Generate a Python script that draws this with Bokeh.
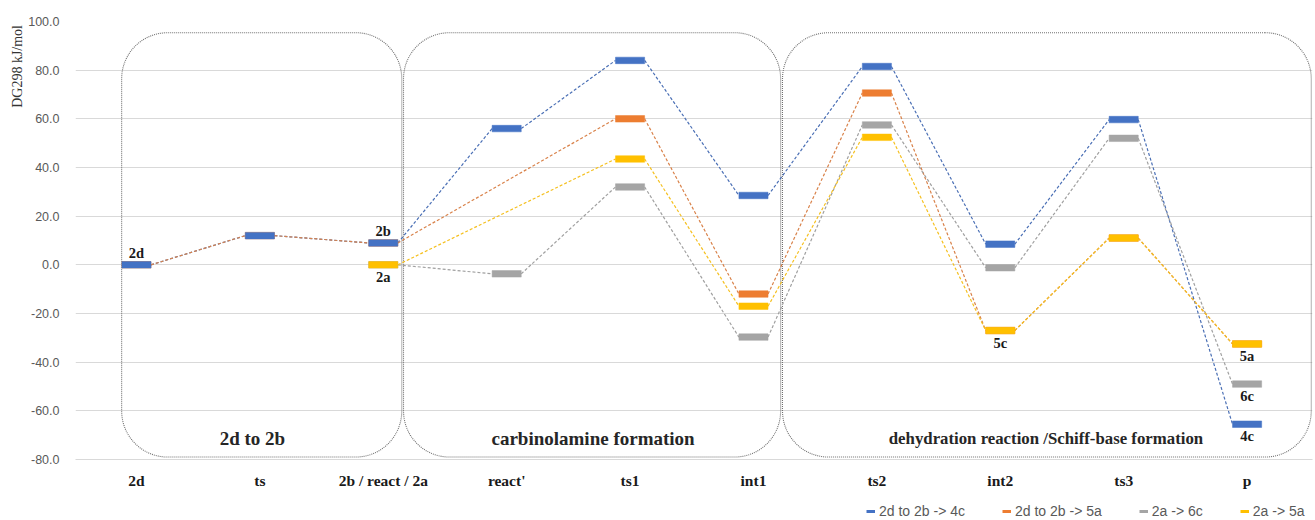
import math
from bokeh.plotting import figure
from bokeh.layouts import column
from bokeh.models import (FixedTicker, NumeralTickFormatter, Legend, LegendItem, Title)
from bokeh.core.properties import value
from bokeh.embed import file_html
from bokeh.resources import INLINE

NAN = float("nan")

# ---------------- data ----------------
stages = ["2d", "ts", "2b / react / 2a", "react'", "ts1", "int1", "ts2", "int2", "ts3", "p"]
series_names = ["2d to 2b -> 4c", "2d to 2b -> 5a", "2a -> 6c", "2a -> 5a"]
s_2d_4c = [0.0, 12.0, 9.0, 56.0, 84.0, 28.5, 81.5, 8.5, 59.7, -65.5]
s_2d_5a = [0.0, 12.0, 9.0, NAN, 60.0, -12.0, 70.6, -27.0, 11.0, -32.5]
s_2a_6c = [NAN, NAN, 0.0, -3.7, 32.0, -29.7, 57.5, -1.2, 52.0, -49.0]
s_2a_5a = [NAN, NAN, 0.0, NAN, 43.5, -17.0, 52.4, -27.0, 11.0, -32.5]
y_ticks = [-80, -60, -40, -20, 0, 20, 40, 60, 80, 100]
y_title = "DG298  kJ/mol"

# point labels: (text, series index, stage index, above?)
point_labels = [("2d", 0, 0, True), ("2b", 0, 2, True), ("2a", 3, 2, False),
                ("5c", 3, 7, False), ("5a", 3, 9, False), ("6c", 2, 9, False),
                ("4c", 0, 9, False)]

# section boxes: (left, right) in stage units, and their titles
sections = ["2d to 2b", "carbinolamine formation", "dehydration reaction /Schiff-base formation"]
section_x = [(-0.12, 2.15), (2.164, 5.22), (5.235, 9.52)]
section_title_x = [0.94, 3.70, 7.37]
section_title_size = ["19px", "19px", "16.8px"]

series = [s_2d_4c, s_2d_5a, s_2a_6c, s_2a_5a]
colors = ["#4472C4", "#ED7D31", "#A5A5A5", "#FFC000"]
line_colors = ["#4A6FB5", "#D9824A", "#A0A0A0", "#F5C020"]

# ---------------- figure ----------------
W, H = 1315, 492
MB_L, MB_R, MB_T, MB_B = 75, 3, 21, 33
x_range = (-0.494, 9.530)
y_range = (-80, 100)

p = figure(width=W, height=H, x_range=x_range, y_range=y_range,
           output_backend="svg", toolbar_location=None,
           min_border_left=MB_L, min_border_right=MB_R,
           min_border_top=MB_T, min_border_bottom=MB_B)
p.outline_line_color = None
p.background_fill_color = "white"
p.border_fill_color = "white"

frame_w = W - MB_L - MB_R
frame_h = H - MB_T - MB_B
ppx = frame_w / (x_range[1] - x_range[0])
ppy = frame_h / (y_range[1] - y_range[0])

# grid / axes
p.xgrid.visible = False
p.ygrid.grid_line_color = "#d9d9d9"
p.ygrid.grid_line_width = 1
p.yaxis.ticker = FixedTicker(ticks=y_ticks)
p.yaxis.formatter = NumeralTickFormatter(format="0.0")
p.yaxis.axis_line_color = None
p.yaxis.major_tick_line_color = None
p.yaxis.minor_tick_line_color = None
p.yaxis.major_label_standoff = 10
p.yaxis.major_label_text_font = "Liberation Sans"
p.yaxis.major_label_text_font_size = "12.5px"
p.yaxis.major_label_text_color = "#595959"

p.xaxis.ticker = FixedTicker(ticks=list(range(len(stages))))
p.xaxis.major_label_overrides = {i: s for i, s in enumerate(stages)}
p.xaxis.axis_line_color = "#d9d9d9"
p.xaxis.major_tick_line_color = None
p.xaxis.minor_tick_line_color = None
p.xaxis.major_label_standoff = 6
p.xaxis.major_label_text_font = "Liberation Serif"
p.xaxis.major_label_text_font_style = "bold"
p.xaxis.major_label_text_font_size = "15.5px"
p.xaxis.major_label_text_color = "#1a1a1a"

# y axis title (top-aligned, like the reference)
p.add_layout(Title(text=y_title, align="right", standoff=1,
                   text_font="Liberation Serif", text_font_size="14px",
                   text_font_style="normal", text_color="#333333"), "left")

# ---------------- section boxes ----------------
def rounded_path(x0, x1, y0, y1, r_px):
    rx, ry = r_px / ppx, r_px / ppy
    xs, ys = [], []
    corners = [((x1 - rx, y1 - ry), 90, 0), ((x1 - rx, y0 + ry), 0, -90),
               ((x0 + rx, y0 + ry), -90, -180), ((x0 + rx, y1 - ry), 180, 90)]
    for (cx, cy), a0, a1 in corners:
        for k in range(21):
            a = math.radians(a0 + (a1 - a0) * k / 20)
            xs.append(cx + rx * math.cos(a))
            ys.append(cy + ry * math.sin(a))
    xs.append(xs[0]); ys.append(ys[0])
    return xs, ys

box_top, box_bottom = 95.4, -79.0
for (bx0, bx1) in section_x:
    xs, ys = rounded_path(bx0, bx1, box_bottom, box_top, 46)
    p.line(xs, ys, line_color="#6f6f6f", line_width=1.1, line_dash="1 1")

for tx, t, fs in zip(section_title_x, sections, section_title_size):
    p.text(x=[tx], y=[-71.2], text=[t],
           text_font=value("Liberation Serif"), text_font_style="bold",
           text_font_size=fs, text_color="#262626",
           text_align="center", text_baseline="middle")

# ---------------- connecting dashed lines ----------------
hw = 0.118  # half bar width in stage units
for s, lc in zip(series, line_colors):
    pts = [(i, v) for i, v in enumerate(s) if not math.isnan(v)]
    x0 = [a[0] + hw for a in pts[:-1]]
    y0 = [a[1] for a in pts[:-1]]
    x1 = [b[0] - hw for b in pts[1:]]
    y1 = [b[1] for b in pts[1:]]
    p.segment(x0=x0, y0=y0, x1=x1, y1=y1, line_color=lc, line_width=1.2,
              line_dash="3 2")

# ---------------- level bars ----------------
for idx in [1, 2, 3, 0]:
    s = series[idx]
    xs = [i for i, v in enumerate(s) if not math.isnan(v)]
    ys = [v for v in s if not math.isnan(v)]
    p.rect(x=xs, y=ys, width=2 * hw, height=6.5, height_units="screen",
           fill_color=colors[idx], line_color=colors[idx], line_width=0.5)

# ---------------- point labels ----------------
lx, ly, lt, loff = [], [], [], []
for txt, si, st, above in point_labels:
    lx.append(st)
    ly.append(series[si][st])
    lt.append(txt)
    loff.append(-12 if above else 12)
p.text(x=lx, y=ly, text=lt, y_offset=loff,
       text_font=value("Liberation Serif"), text_font_style="bold",
       text_font_size="14.5px", text_color="#1a1a1a",
       text_align="center", text_baseline="middle")

# ---------------- legend (separate strip below) ----------------
lf = figure(width=W, height=28, x_range=(0, 1), y_range=(0, 1),
            output_backend="svg", toolbar_location=None,
            x_axis_type=None, y_axis_type=None, min_border=0)
lf.outline_line_color = None
lf.grid.visible = False
items = []
for name, c in zip(series_names, colors):
    r = lf.line([NAN], [NAN], line_color=c, line_width=3)
    items.append(LegendItem(label=name, renderers=[r]))
legend = Legend(items=items, orientation="horizontal", location=(791, 1),
                glyph_width=9, glyph_height=10, label_height=16, label_standoff=4,
                spacing=37, padding=0, margin=0, border_line_color=None,
                background_fill_alpha=0,
                label_text_font="Liberation Sans", label_text_font_size="14px",
                label_text_color="#595959")
lf.add_layout(legend, "center")

layout = column(p, lf, spacing=0)
open("out.html", "w").write(file_html(layout, INLINE))
